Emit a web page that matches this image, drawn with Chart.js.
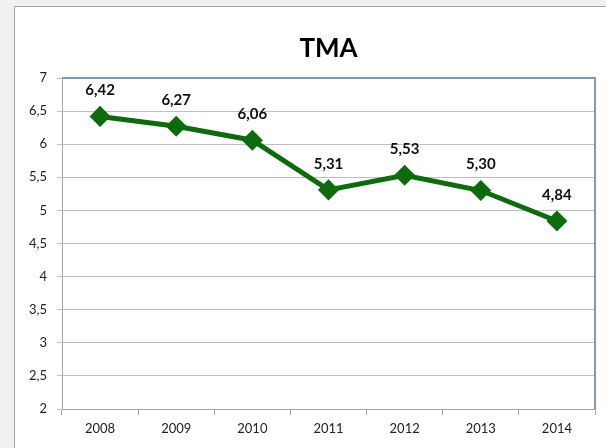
<!DOCTYPE html>
<html>
<head>
<meta charset="utf-8">
<script src="https://cdn.jsdelivr.net/npm/chart.js@4/dist/chart.umd.min.js"></script>
<style>
  html, body { margin: 0; padding: 0; background: #f1f1f1; width: 606px; height: 448px; overflow: hidden; }
  #frame { position: absolute; left: 14px; top: 6px; width: 592px; height: 442px; background: #fff;
           border-left: 1px solid #a6a6a6; border-top: 1px solid #a6a6a6; }
  #chartTMA { display: block; }
</style>
</head>
<body>
<div id="frame"><canvas id="chartTMA" width="592" height="442"></canvas></div>
<script>
const years = ['2008', '2009', '2010', '2011', '2012', '2013', '2014']
const tmaValues = [6.42, 6.27, 6.06, 5.31, 5.53, 5.30, 4.84]
const yTickLabels = ['2', '2,5', '3', '3,5', '4', '4,5', '5', '5,5', '6', '6,5', '7']
const chartTitle = 'TMA'

const fontFamily = 'Lato, "Open Sans", sans-serif'
const green = '#0d6b0d'

// title over the plot area, value labels above points, blue-grey plot border on top/right
const decorations = {
    id: 'decorations',
    beforeDatasetsDraw(chart) {
        const { ctx, chartArea } = chart
        ctx.save()
        ctx.strokeStyle = '#8497b0'
        ctx.lineWidth = 2
        ctx.beginPath()
        ctx.moveTo(chartArea.left, chartArea.top)
        ctx.lineTo(chartArea.right, chartArea.top)
        ctx.lineTo(chartArea.right, chartArea.bottom)
        ctx.stroke()

        ctx.font = 'bold 26px ' + fontFamily
        ctx.fillStyle = '#000'
        ctx.textAlign = 'center'
        ctx.textBaseline = 'middle'
        ctx.fillText(chartTitle, (chartArea.left + chartArea.right) / 2, 42)
        ctx.restore()
    },
    afterDatasetsDraw(chart) {
        const ctx = chart.ctx
        const meta = chart.getDatasetMeta(0)
        ctx.save()
        ctx.font = 'bold 15px ' + fontFamily
        ctx.fillStyle = '#111'
        ctx.textAlign = 'center'
        ctx.textBaseline = 'middle'
        meta.data.forEach((pt, i) => {
            ctx.fillText(tmaValues[i].toFixed(2).replace('.', ','), pt.x, pt.y - 26)
        })
        ctx.restore()
    },
}

const config = {
    type: 'line',
    data: {
        labels: years,
        datasets: [{
            label: chartTitle,
            data: tmaValues,
            borderColor: green,
            backgroundColor: green,
            borderWidth: 5,
            pointStyle: 'rectRot',
            pointRadius: 7,
            pointHoverRadius: 7,
            tension: 0,
        }],
    },
    options: {
        responsive: false,
        animation: false,
        layout: { padding: { left: 0, right: 8, top: 71, bottom: 0 } },
        plugins: {
            legend: { display: false },
            tooltip: { enabled: false },
            title: { display: false },
        },
        scales: {
            x: {
                offset: true,
                grid: { offset: true, drawOnChartArea: false, drawTicks: true, tickLength: 6, color: '#a6a6a6' },
                border: { color: '#a6a6a6', width: 1 },
                ticks: { color: '#222', font: { family: fontFamily, size: 13 }, padding: 6 },
                afterFit(axis) { axis.height = 40 },
            },
            y: {
                min: 2,
                max: 7,
                grid: { color: '#bfbfbf', lineWidth: 1, tickLength: 5 },
                border: { color: '#a6a6a6', width: 1 },
                ticks: {
                    stepSize: 0.5,
                    color: '#222',
                    font: { family: fontFamily, size: 13 },
                    padding: 10,
                    callback: (v, i) => yTickLabels[i],
                },
                afterFit(axis) { axis.width = 47 },
            },
        },
    },
    plugins: [decorations],
}

new Chart(document.getElementById('chartTMA'), config)
</script>
</body>
</html>
